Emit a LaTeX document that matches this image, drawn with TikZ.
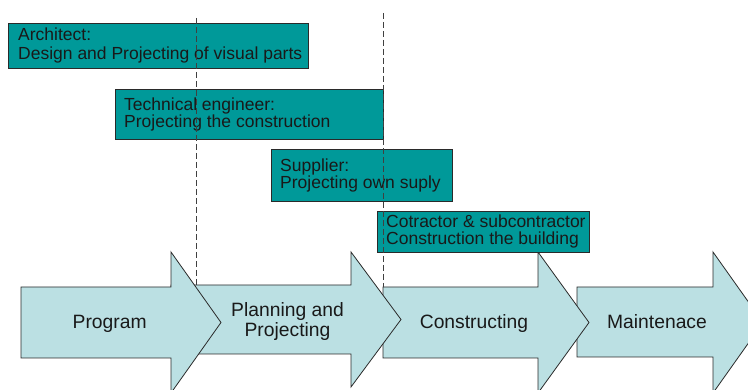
\documentclass[tikz,border=0pt]{standalone}
\usepackage{fontspec}
\setmainfont{Liberation Sans}
\definecolor{tealbox}{HTML}{009999}
\definecolor{arrowfill}{HTML}{BBE0E3}
\definecolor{edgegray}{HTML}{2A2A2A}
\tikzset{
  phase/.style={draw=edgegray, line width=0.8pt, fill=arrowfill, line join=miter},
  rolebox/.style={draw=edgegray, line width=0.9pt, fill=tealbox, inner sep=0pt, anchor=north west},
  roletext/.style={inner sep=0pt, anchor=west, align=left, text=black!90,
    font=\fontsize{17.5}{17}\selectfont},
  phaselabel/.style={inner sep=0pt, align=center, text=black!90,
    font=\fontsize{19.3}{20}\selectfont},
  divider/.style={draw=black!75, line width=0.9pt, dash pattern=on 6pt off 3pt}
}
\begin{document}
\begin{tikzpicture}[x=1pt,y=-1pt]
\useasboundingbox (0,0) rectangle (748,390);
% phase arrows (drawn right to left so earlier ones overlap later ones)
\path[phase] (577,287) -- (713,287) -- (713,252) -- (763,322.5) -- (713,393) -- (713,357) -- (577,357) -- cycle;
\path[phase] (383,287) -- (538,287) -- (538,252) -- (589,322.5) -- (538,393) -- (538,358) -- (383,358) -- cycle;
\path[phase] (171,285) -- (351,285) -- (351,252) -- (401,319.5) -- (351,387) -- (351,354) -- (171,354) -- cycle;
\path[phase] (21,287) -- (171,287) -- (171,252) -- (221,322.5) -- (171,393) -- (171,358) -- (21,358) -- cycle;
\node[phaselabel, anchor=base] (program) at (109.7,329) {Program};
\node[phaselabel, anchor=center] (planning) at (287.5,321.5) {Planning and\\Projecting};
\node[phaselabel, anchor=base] (constructing) at (474,329) {Constructing};
\node[phaselabel, anchor=base] (maintenance) at (657,329) {Maintenace};
% role boxes
\node[rolebox, minimum width=300pt, minimum height=45pt] (arch) at (8,23) {};
\node[roletext, font=\fontsize{17.5}{19}\selectfont] (archtext) at ([xshift=10pt]arch.west) {Architect:\\Design and Projecting of visual parts};
\node[rolebox, minimum width=268pt, minimum height=50pt] (tech) at (115,89) {};
\node[roletext] (techtext) at ([xshift=9pt]tech.west) {Technical engineer:\\Projecting the construction};
\node[rolebox, minimum width=181pt, minimum height=52pt] (supp) at (271,149) {};
\node[roletext] (supptext) at ([xshift=9pt]supp.west) {Supplier:\\Projecting own suply};
\node[rolebox, minimum width=212pt, minimum height=41pt] (contr) at (377,211) {};
\node[roletext] (contrtext) at ([xshift=9pt]contr.west) {Cotractor \& subcontractor\\Construction the building};
% dashed dividers
\coordinate (d1top) at (196,18);
\coordinate (d1bot) at (196,285);
\coordinate (d2top) at (383,13);
\coordinate (d2bot) at (383,287);
\draw[divider] (d1top) -- (d1bot);
\draw[divider] (d2top) -- (d2bot);
\end{tikzpicture}
\end{document}
